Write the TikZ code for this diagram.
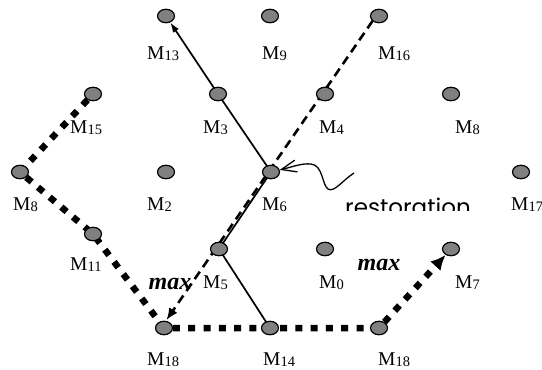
\documentclass[tikz,border=0pt]{standalone}
\usepackage{fontspec}
\setmainfont{Liberation Serif}
\newfontfamily\restfont{Poppins}
\usetikzlibrary{arrows.meta,backgrounds,shapes.geometric}
\definecolor{nodegray}{RGB}{128,128,128}
\newcommand{\mlab}[1]{M\raisebox{-1.5pt}{\fontsize{14.5}{14.5}\selectfont #1}}
\begin{document}
\begin{tikzpicture}[x=1pt,y=-1pt,
  mnode/.style={ellipse,draw=black,line width=1.2pt,fill=nodegray,minimum width=17pt,minimum height=13.5pt,inner sep=0pt},
  mlabel/.style={anchor=base west,inner sep=0pt,font=\fontsize{19.5}{20}\selectfont},
  solidpath/.style={line width=1.7pt},
  dashpath/.style={line width=2.6pt,dash pattern=on 9pt off 5.5pt},
  dotpath/.style={line width=6.5pt,dash pattern=on 7pt off 8.3pt},
  maxlabel/.style={font=\fontsize{24}{24}\selectfont\bfseries\itshape,inner sep=0pt},
  wavy/.style={line width=1.3pt}
]
\useasboundingbox (0,0) rectangle (542,370);
% nodes
\node[mnode] (M13) at (166,16) {};
\node[mnode] (M9) at (270,16) {};
\node[mnode] (M16) at (379,16) {};
\node[mnode] (M15) at (93,94) {};
\node[mnode] (M3) at (218,94) {};
\node[mnode] (M4) at (325,94) {};
\node[mnode] (M8r) at (451,94) {};
\node[mnode] (M8l) at (20,172) {};
\node[mnode] (M2) at (166,172) {};
\node[mnode] (M6) at (271,172) {};
\node[mnode] (M17) at (521,172) {};
\node[mnode] (M11) at (93,234) {};
\node[mnode] (M5) at (219,249) {};
\node[mnode] (M0) at (325,249) {};
\node[mnode] (M7) at (451,249) {};
\node[mnode] (M18l) at (164,328) {};
\node[mnode] (M14) at (270,328) {};
\node[mnode] (M18r) at (379,328) {};
% labels
\node[mlabel] (L13) at (147,59) {\mlab{13}};
\node[mlabel] (L9) at (262,59) {\mlab{9}};
\node[mlabel] (L16) at (378,59) {\mlab{16}};
\node[mlabel] (L15) at (70,133) {\mlab{15}};
\node[mlabel] (L3) at (203,133) {\mlab{3}};
\node[mlabel] (L4) at (319,133) {\mlab{4}};
\node[mlabel] (L8r) at (455,133) {\mlab{8}};
\node[mlabel] (L8l) at (13,210) {\mlab{8}};
\node[mlabel] (L2) at (147,210) {\mlab{2}};
\node[mlabel] (L6) at (262,210) {\mlab{6}};
\node[mlabel] (L17) at (511,210) {\mlab{17}};
\node[mlabel] (L11) at (70,270) {\mlab{11}};
\node[mlabel] (L5) at (203,288) {\mlab{5}};
\node[mlabel] (L0) at (319,288) {\mlab{0}};
\node[mlabel] (L7) at (455,288) {\mlab{7}};
\node[mlabel] (L18l) at (147,365) {\mlab{18}};
\node[mlabel] (L14) at (263,365) {\mlab{14}};
\node[mlabel] (L18r) at (378,365) {\mlab{18}};
% max labels
\node[maxlabel] (max1) at (170,284) {max};
\node[maxlabel] (max2) at (379,265) {max};
% restoration (clipped)
\begin{scope}
\clip (330,190) rectangle (480,210.5);
\node[anchor=base west,inner sep=0pt,font=\restfont\fontsize{23}{23}\selectfont] (rest) at (345,215) {restoration};
\end{scope}
\coordinate (wstart) at (354,173);
% connectors
\begin{scope}[on background layer]
\draw[dotpath,-{Latex[length=15pt,width=14pt]}] (M15) -- (M8l.center) -- (M11.center) -- (M18l.center) -- (M14.center) -- (M18r.center) -- (M7);
\draw[solidpath,-{Latex[length=10pt,width=7pt]}] (M14.center) -- (M5.center) -- (M6.center) -- (M3.center) -- (M13);
\draw[dashpath,-{Latex[length=12pt,width=10pt]},transform canvas={xshift=-2pt,yshift=1.5pt}] (M16) -- (M18l);
\end{scope}
\draw[wavy,-{Straight Barb[length=15pt,width=12pt]}] (wstart) .. controls (343,180) and (334,193) .. (328,189) .. controls (322,185) and (323,165) .. (311,164) .. controls (302,163) and (292,167) .. (M6);
\end{tikzpicture}
\end{document}
